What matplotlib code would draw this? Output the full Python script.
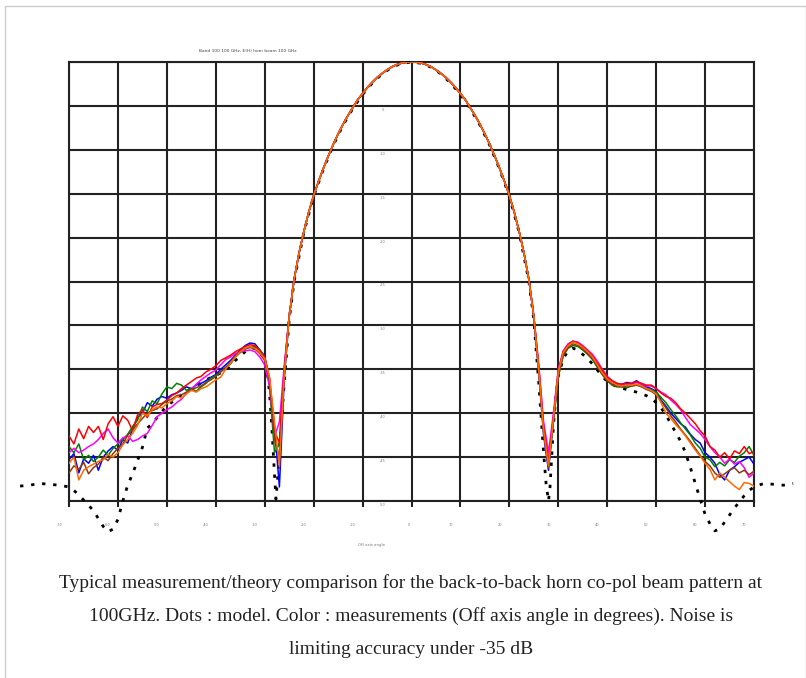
import matplotlib
matplotlib.use("Agg")
import matplotlib.pyplot as plt
from matplotlib.patches import Rectangle

# off axis angle (deg) for the measured cuts: -70 .. 70 step 1
meas_angles = list(range(-70, 71))

# main lobe, shared by all measured cuts, -25 .. 25 deg
main_lobe = [-29.0, -24.8, -21.8, -19.3, -17.1, -15.2, -13.6, -12.1, -10.7, -9.4,
             -8.2, -7.1, -6.1, -5.2, -4.3, -3.6, -2.9, -2.3, -1.75, -1.3,
             -0.9, -0.55, -0.3, -0.12, -0.03, 0.0, -0.03, -0.12, -0.3, -0.55,
             -0.9, -1.3, -1.75, -2.3, -2.9, -3.6, -4.3, -5.2, -6.1, -7.1,
             -8.2, -9.4, -10.7, -12.1, -13.6, -15.2, -17.1, -19.3, -21.8, -24.8,
             -29.0]

# left side -70 .. -26 deg
blue_left = [-45.3, -44.6, -46.8, -45.2, -45.7, -44.8, -46.5, -45.0, -44.3, -43.8,
             -44.2, -43.0, -43.4, -41.8, -40.5, -40.0, -38.8, -39.2, -38.4, -38.1,
             -38.3, -37.9, -37.7, -37.4, -37.0, -37.2, -36.8, -36.6, -36.3, -35.9,
             -35.6, -35.0, -34.5, -34.0, -33.4, -32.8, -32.3, -32.0, -32.1, -32.8,
             -33.5, -36.5, -41.5, -48.4, -36.0]
green_left = [-43.8, -44.5, -43.5, -45.3, -44.8, -45.5, -45.0, -44.2, -44.8, -44.0,
              -43.5, -43.0, -42.4, -41.5, -40.8, -39.3, -39.8, -38.6, -38.9, -37.8,
              -37.0, -37.2, -36.6, -36.8, -37.4, -37.2, -37.5, -37.0, -36.6, -36.0,
              -35.7, -35.3, -34.8, -34.4, -33.6, -33.1, -32.7, -32.5, -32.4, -32.8,
              -33.6, -37.0, -44.5, -43.5, -35.0]
magenta_left = [-44.5, -44.0, -44.5, -44.2, -43.8, -43.5, -43.0, -42.3, -41.8, -42.8,
                -43.4, -42.8, -42.6, -43.2, -43.0, -42.6, -42.3, -41.4, -40.4, -40.0,
                -39.6, -39.3, -38.8, -38.4, -37.7, -37.3, -36.7, -36.2, -35.8, -35.4,
                -35.1, -34.5, -33.9, -33.6, -33.2, -33.0, -32.9, -32.8, -33.0, -33.6,
                -34.5, -37.0, -42.7, -41.0, -34.5]
red_left = [-42.6, -43.5, -41.8, -42.9, -41.5, -42.2, -41.5, -43.0, -41.2, -40.4,
            -41.5, -40.3, -40.8, -42.0, -40.2, -39.6, -40.5, -39.3, -39.0, -38.9,
            -38.5, -38.0, -37.7, -37.2, -36.8, -36.4, -36.0, -35.8, -35.3, -35.0,
            -34.6, -34.0, -33.7, -33.4, -33.0, -32.7, -32.4, -32.2, -32.3, -32.9,
            -33.6, -36.0, -42.0, -43.4, -35.0]
brown_left = [-46.8, -46.0, -46.4, -45.6, -46.9, -46.2, -45.8, -45.0, -45.4, -44.6,
              -44.0, -43.5, -42.5, -41.9, -41.2, -40.6, -40.0, -39.7, -39.5, -39.0,
              -38.6, -38.4, -38.0, -37.9, -37.6, -37.3, -37.1, -36.9, -36.5, -36.2,
              -35.8, -35.3, -34.8, -34.2, -33.5, -32.9, -32.6, -32.5, -32.7, -33.2,
              -34.0, -36.2, -43.0, -45.0, -35.8]
orange_left = [-45.7, -45.0, -47.6, -46.5, -46.1, -45.8, -45.5, -45.3, -44.7, -45.0,
               -44.5, -43.6, -43.0, -42.3, -41.4, -40.0, -40.3, -39.6, -39.3, -39.4,
               -38.9, -38.6, -38.1, -38.3, -37.8, -37.4, -37.6, -37.2, -37.0, -36.6,
               -36.2, -35.9, -35.0, -34.3, -33.6, -33.0, -32.6, -32.4, -32.6, -33.1,
               -33.8, -36.0, -41.0, -46.1, -35.5]

# right side 26 .. 70 deg
blue_right = [-35.2, -42.5, -46.5, -40.8, -35.4, -33.1, -32.2, -31.8, -32.0, -32.5,
              -33.0, -33.6, -34.5, -35.4, -36.1, -36.5, -36.7, -36.7, -36.5, -36.6,
              -36.3, -36.7, -37.0, -37.2, -37.5, -38.5, -39.2, -40.0, -40.6, -41.2,
              -41.6, -42.4, -43.0, -43.4, -44.5, -45.0, -45.7, -47.0, -47.6, -46.5,
              -46.1, -45.6, -45.3, -45.0, -45.8]
green_right = [-35.0, -42.0, -45.8, -41.0, -35.8, -33.5, -32.6, -32.3, -32.4, -32.8,
               -33.3, -33.9, -34.8, -35.6, -36.3, -36.8, -37.0, -37.0, -37.1, -36.9,
               -36.8, -36.9, -37.2, -37.3, -37.6, -38.2, -38.8, -39.6, -40.3, -41.1,
               -41.8, -42.5, -43.4, -44.0, -45.0, -45.3, -46.1, -45.6, -46.0, -45.3,
               -45.6, -44.9, -44.5, -43.8, -44.8]
magenta_right = [-34.5, -41.0, -44.5, -40.0, -35.0, -32.9, -32.1, -31.8, -31.9, -32.3,
                 -32.8, -33.3, -34.1, -35.0, -35.8, -36.3, -36.6, -36.8, -36.7, -36.7,
                 -36.5, -36.7, -36.9, -36.9, -37.2, -37.6, -37.9, -38.5, -39.0, -39.6,
                 -40.5, -41.3, -41.8, -42.3, -43.0, -43.8, -44.5, -45.0, -45.7, -45.2,
                 -45.8, -45.5, -46.2, -47.3, -46.8]
red_right = [-34.5, -41.5, -45.5, -40.5, -35.3, -33.0, -32.2, -31.8, -32.0, -32.4,
             -32.9, -33.5, -34.3, -35.1, -35.9, -36.3, -36.6, -36.7, -36.6, -36.6,
             -36.4, -36.6, -36.8, -36.8, -37.2, -37.7, -38.1, -38.3, -38.8, -39.5,
             -40.0, -40.6, -41.2, -42.0, -42.6, -43.8, -44.2, -45.0, -44.5, -45.2,
             -44.3, -44.6, -43.8, -44.6, -44.4]
brown_right = [-35.3, -42.3, -46.2, -41.0, -35.8, -33.4, -32.5, -32.1, -32.3, -32.7,
               -33.2, -33.8, -34.7, -35.6, -36.3, -36.7, -36.9, -37.0, -36.9, -36.9,
               -36.8, -37.0, -37.3, -37.5, -37.9, -38.6, -39.4, -40.3, -41.0, -41.8,
               -42.5, -43.2, -44.0, -44.8, -45.5, -46.0, -46.8, -47.3, -46.9, -46.5,
               -46.2, -46.8, -46.5, -47.0, -46.6]
orange_right = [-35.0, -42.0, -46.0, -40.6, -35.3, -33.1, -32.3, -31.9, -32.1, -32.5,
                -33.0, -33.6, -34.5, -35.4, -36.1, -36.5, -36.8, -36.9, -36.8, -36.8,
                -36.7, -36.9, -37.2, -37.4, -37.8, -38.8, -40.0, -40.6, -41.3, -41.9,
                -42.6, -43.4, -44.2, -44.9, -45.7, -46.4, -47.6, -46.8, -47.3, -47.8,
                -48.3, -48.7, -47.9, -48.0, -48.3]

# model (dots)
model_angles = [-80, -78, -76, -74, -72, -70, -69, -68, -67, -66, -65, -64, -63, -62,
                -61, -60, -59, -58, -57, -56, -55, -54, -53, -52, -51, -50, -48, -46,
                -44, -42, -40, -38, -36, -34, -33, -32, -31, -30, -29.5, -29, -28.5,
                -28, -27.7, -27.3, -27, -26.5, -26, -25.5, -25, -24, -22, -20, -18,
                -16, -14, -12, -10, -8, -6, -4, -2, 0, 2, 4, 6, 8, 10, 12, 14, 16, 18,
                20, 22, 24, 25, 25.5, 26, 26.5, 27, 27.5, 28, 28.3, 28.6, 29, 29.5, 30,
                31, 32, 33, 34, 35, 36, 37, 38, 39, 40, 42, 44, 46, 48, 49, 50, 51, 52,
                53, 54, 55, 56, 57, 58, 59, 60, 61, 62, 63, 64, 65, 66, 67, 68, 69, 70,
                72, 74, 76, 78]
model_db = [-48.3, -48.2, -48.0, -48.1, -48.2, -48.4, -48.8, -49.3, -49.9, -50.5, -51.1,
            -52.0, -52.9, -53.5, -53.2, -52.1, -50.0, -48.2, -46.9, -45.4, -43.9, -41.7,
            -41.2, -40.5, -39.8, -39.2, -38.3, -37.5, -36.9, -36.2, -35.7, -35.1, -34.0,
            -33.0, -32.6, -32.6, -33.0, -33.9, -35.2, -37.8, -42.0, -47.0, -49.8, -47.0,
            -44.0, -40.4, -36.5, -33.0, -29.4, -25.0, -19.4, -15.3, -12.2, -9.5, -7.2,
            -5.3, -3.7, -2.4, -1.35, -0.6, -0.15, 0.0, -0.15, -0.6, -1.35, -2.4, -3.7,
            -5.3, -7.2, -9.5, -12.2, -15.3, -19.4, -25.0, -29.4, -33.0, -36.5, -40.5,
            -44.5, -48.0, -50.0, -48.5, -45.5, -41.5, -38.2, -35.8, -33.8, -32.9, -32.6,
            -32.8, -33.3, -33.8, -34.4, -35.1, -35.8, -36.4, -37.0, -37.3, -37.6, -38.0,
            -38.3, -38.8, -39.4, -40.2, -41.2, -42.2, -43.2, -44.5, -46.2, -48.0, -49.8,
            -51.5, -52.6, -53.4, -53.2, -52.4, -51.6, -50.8, -50.1, -49.4, -48.8, -48.4,
            -48.0, -48.1, -48.2, -48.0]

series = [
    ("#0000ff", blue_left, blue_right),
    ("#008000", green_left, green_right),
    ("#ff00ff", magenta_left, magenta_right),
    ("#ff0000", red_left, red_right),
    ("#8b3a0f", brown_left, brown_right),
    ("#ff6a00", orange_left, orange_right),
]

x_ticks = list(range(-70, 71, 10))
y_ticks = list(range(-50, 1, 5))

fig = plt.figure(figsize=(8.06, 6.78), dpi=100)
ax = fig.add_axes([69 / 806, 1 - 501 / 678, 685 / 806, 439 / 678])

ax.plot(model_angles, model_db, color="black", lw=2.0,
        linestyle=(0, (1.2, 2.8)), clip_on=False, zorder=3)

for color, left, right in series:
    vals = left + main_lobe + right
    ax.plot(meas_angles, vals, color=color, lw=1.1, zorder=4)

ax.set_xlim(-70, 70)
ax.set_ylim(-50, 0)
ax.set_xticks(x_ticks)
ax.set_yticks(y_ticks)
ax.grid(True, color="#222222", lw=1.5)
ax.set_axisbelow(True)
for s in ax.spines.values():
    s.set_color("#222222")
    s.set_linewidth(1.5)
ax.tick_params(axis="x", direction="out", length=4.5, width=1.5, color="#222222",
               labelbottom=False)
ax.tick_params(axis="y", length=0, labelleft=False)

# tiny tick labels as in the original plot
for t in x_ticks:
    off = -0.6 if t == 0 else -2.0
    ax.text(t + off, -0.055, str(t), transform=ax.get_xaxis_transform(),
            ha="center", va="center", fontsize=2.5, color="#777777")
for t in y_ticks[:-1]:
    ax.text(-5.3, t - 0.45, str(t), ha="right", va="center",
            fontsize=2.5, color="#777777")

fig.text(248 / 806, 1 - 51 / 678, "Band 100 100 GHz, E(H) horn beam 100 GHz",
         ha="center", va="center", fontsize=3.2, color="#444444")
fig.text(371 / 806, 1 - 545 / 678, "Off axis angle", ha="center", va="center",
         fontsize=2.8, color="#777777")

caption = ["Typical measurement/theory comparison for the back-to-back horn co-pol beam pattern at",
           "100GHz. Dots : model. Color : measurements (Off axis angle in degrees). Noise is",
           "limiting accuracy under -35 dB"]
for i, line in enumerate(caption):
    fig.text(411 / 806, 1 - (583 + 33 * i) / 678, line, ha="center", va="center",
             fontsize=14, family="Liberation Serif", color="#222222")

fig.add_artist(Rectangle((4.5 / 806, -0.01), 801 / 806, (678 - 5.5) / 678 + 0.01,
                         transform=fig.transFigure, fill=False, ec="#cccccc", lw=1))

fig.savefig("out.png", dpi=100)
